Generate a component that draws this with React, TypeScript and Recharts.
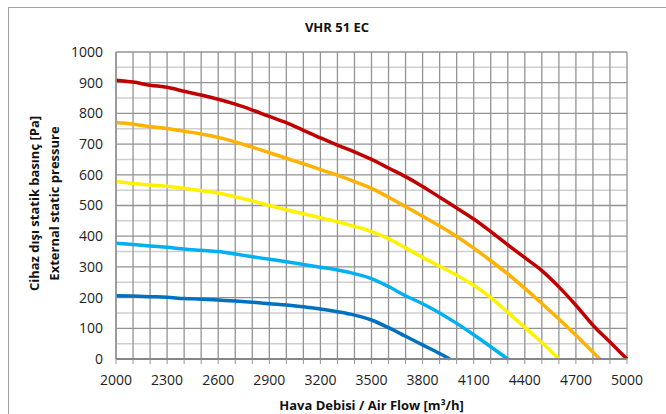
import { CartesianGrid, Label, Line, LineChart, XAxis, YAxis } from "recharts";

// air flow [m3/h] and pressure [Pa] for each fan speed curve
const flowRed = [2000, 2100, 2200, 2300, 2400, 2500, 2600, 2700, 2800, 2900, 3000, 3100, 3200, 3300, 3400, 3500, 3600, 3700, 3800, 3900, 4000, 4100, 4200, 4300, 4400, 4500, 4600, 4700, 4800, 4900, 5000];
const pressRed = [908, 902, 892, 885, 872, 860, 846, 830, 811, 790, 770, 745, 720, 697, 675, 650, 622, 594, 562, 527, 492, 456, 415, 372, 330, 288, 235, 175, 110, 55, 0];

const flowOrange = [2000, 2100, 2200, 2300, 2400, 2500, 2600, 2700, 2800, 2900, 3000, 3100, 3200, 3300, 3400, 3500, 3600, 3700, 3800, 3900, 4000, 4100, 4200, 4300, 4400, 4500, 4600, 4700, 4800, 4840];
const pressOrange = [770, 765, 757, 751, 742, 733, 722, 707, 690, 672, 654, 636, 617, 599, 578, 556, 527, 496, 465, 433, 399, 361, 320, 277, 230, 181, 130, 77, 22, 0];

const flowYellow = [2000, 2100, 2200, 2300, 2400, 2500, 2600, 2700, 2800, 2900, 3000, 3100, 3200, 3300, 3400, 3500, 3600, 3700, 3800, 3900, 4000, 4100, 4200, 4300, 4400, 4500, 4600];
const pressYellow = [578, 572, 567, 563, 556, 548, 541, 528, 515, 500, 486, 473, 460, 447, 432, 415, 392, 362, 331, 302, 273, 240, 200, 152, 103, 54, 0];

const flowLightBlue = [2000, 2100, 2200, 2300, 2400, 2500, 2600, 2700, 2800, 2900, 3000, 3100, 3200, 3300, 3400, 3500, 3600, 3700, 3800, 3900, 4000, 4100, 4200, 4300];
const pressLightBlue = [377, 373, 368, 364, 358, 354, 350, 342, 333, 325, 317, 308, 299, 290, 278, 262, 236, 206, 180, 150, 116, 79, 40, 0];

const flowBlue = [2000, 2100, 2200, 2300, 2400, 2500, 2600, 2700, 2800, 2900, 3000, 3100, 3200, 3300, 3400, 3500, 3600, 3700, 3800, 3900, 3960];
const pressBlue = [206, 205, 203, 201, 197, 195, 192, 189, 185, 180, 176, 170, 163, 154, 143, 127, 102, 74, 46, 18, 0];

const xTicks = [2000, 2100, 2200, 2300, 2400, 2500, 2600, 2700, 2800, 2900, 3000, 3100, 3200, 3300, 3400, 3500, 3600, 3700, 3800, 3900, 4000, 4100, 4200, 4300, 4400, 4500, 4600, 4700, 4800, 4900, 5000];
const yTicks = [0, 100, 200, 300, 400, 500, 600, 700, 800, 900, 1000];
const yMinor = [50, 150, 250, 350, 450, 550, 650, 750, 850, 950];

const zip = (q: number[], p: number[]) => q.map((v, i) => ({ q: v, p: p[i] }));

const series = [
  { name: "red", color: "#c00000", data: zip(flowRed, pressRed) },
  { name: "orange", color: "#ffb200", data: zip(flowOrange, pressOrange) },
  { name: "yellow", color: "#fff200", data: zip(flowYellow, pressYellow) },
  { name: "lightblue", color: "#00b0f0", data: zip(flowLightBlue, pressLightBlue) },
  { name: "blue", color: "#0070c0", data: zip(flowBlue, pressBlue) },
];

const font = "'Open Sans', sans-serif";

function YTitle(props: any) {
  const { viewBox } = props;
  const cy = viewBox.y + viewBox.height / 2 - 2;
  return (
    <g fontFamily={font} fontWeight={700} fontSize={13} fill="#111">
      <text x={34} y={cy} textAnchor="middle" dominantBaseline="central" transform={`rotate(-90 34 ${cy})`}>
        Cihaz dışı statik basınç [Pa]
      </text>
      <text x={54} y={cy} textAnchor="middle" dominantBaseline="central" transform={`rotate(-90 54 ${cy})`}>
        External static pressure
      </text>
    </g>
  );
}

export default function App() {
  return (
    <div style={{ position: "absolute", left: 0, top: 0, width: 666, height: 414, overflow: "hidden", background: "#fff" }}>
      <div style={{ position: "absolute", left: 8, top: 7, width: 700, height: 500, border: "1px solid #a0a0a0" }} />
      <div
        style={{
          position: "absolute",
          left: 0,
          top: 18,
          width: 674,
          textAlign: "center",
          fontFamily: font,
          fontWeight: 700,
          fontSize: 13,
          color: "#111",
        }}
      >
        VHR 51 EC
      </div>
      <div style={{ position: "absolute", left: 0, top: 0 }}>
        <LineChart width={666} height={414} margin={{ top: 52, right: 39, bottom: 0, left: 0 }}>
          <CartesianGrid horizontalValues={yMinor} vertical={false} stroke="#cfcfcf" strokeWidth={1.5} />
          <CartesianGrid horizontalValues={yTicks} verticalValues={xTicks} stroke="#939393" strokeWidth={1.3} />
          <XAxis
            type="number"
            dataKey="q"
            domain={[2000, 5000]}
            ticks={xTicks}
            interval={0}
            tickFormatter={(v: number) => ((v - 2000) % 300 === 0 ? String(v) : "")}
            height={55}
            tickSize={5}
            tickMargin={11}
            tickLine={{ stroke: "#939393" }}
            axisLine={{ stroke: "#858585", strokeWidth: 2 }}
            tick={{ fontFamily: font, fontSize: 14, fill: "#222" }}
          >
            <Label
              value="Hava Debisi / Air Flow [m³/h]"
              position="insideBottom"
              offset={4}
              style={{ fontFamily: font, fontWeight: 700, fontSize: 13, fill: "#111" }}
            />
          </XAxis>
          <YAxis
            type="number"
            domain={[0, 1000]}
            ticks={yTicks}
            interval={0}
            width={116}
            tickSize={0}
            tickMargin={13}
            tickLine={false}
            axisLine={{ stroke: "#939393", strokeWidth: 1.5 }}
            tick={{ fontFamily: font, fontSize: 14, fill: "#222" }}
          >
            <Label content={<YTitle />} />
          </YAxis>
          {series.map((s) => (
            <Line
              key={s.name}
              data={s.data}
              dataKey="p"
              type="monotone"
              stroke={s.color}
              strokeWidth={3.5}
              dot={false}
              activeDot={false}
              isAnimationActive={false}
            />
          ))}
        </LineChart>
      </div>
    </div>
  );
}
